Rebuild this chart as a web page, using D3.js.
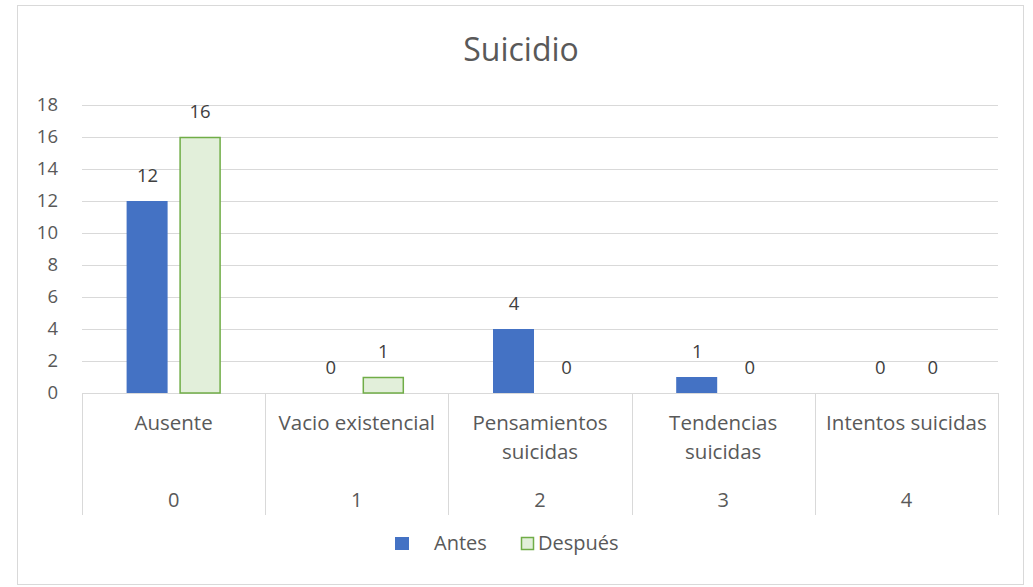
<!DOCTYPE html>
<html><head><meta charset="utf-8">
<script src="https://cdn.jsdelivr.net/npm/d3@7"></script>
<style>body{margin:0;background:#fff}</style>
</head><body>
<svg id="c" width="1033" height="587"></svg>
<script>
const categories = ["Ausente", "Vacio existencial", "Pensamientos suicidas", "Tendencias suicidas", "Intentos suicidas"];
const categoryLines = [["Ausente"], ["Vacio existencial"], ["Pensamientos", "suicidas"], ["Tendencias", "suicidas"], ["Intentos suicidas"]];
const indexLabels = ["0", "1", "2", "3", "4"];
const antes = [12, 0, 4, 1, 0];
const despues = [16, 1, 0, 0, 0];
const yTicks = [0, 2, 4, 6, 8, 10, 12, 14, 16, 18];
const seriesNames = ["Antes", "Después"];

const font = "'Open Sans', 'Liberation Sans', sans-serif";
const txt = "#595959";
const svg = d3.select("#c");
svg.append("rect").attr("x", 17.5).attr("y", 5.5).attr("width", 1006).attr("height", 579)
  .attr("fill", "#fff").attr("stroke", "#d9d9d9");

const L = 82, R = 998, T = 105, B = 393;
const x = d3.scaleBand().domain(categories).range([L, R]);
const y = d3.scaleLinear().domain([0, 18]).range([B, T]);

svg.append("text").attr("x", 521).attr("y", 61).attr("text-anchor", "middle")
  .attr("font-family", font).attr("font-size", 32).attr("fill", txt).text("Suicidio");

// gridlines
svg.append("g").selectAll("line").data(yTicks).join("line")
  .attr("x1", L).attr("x2", R).attr("y1", d => y(d) + 0.5).attr("y2", d => y(d) + 0.5)
  .attr("stroke", "#d9d9d9").attr("stroke-width", 1);

// y labels
svg.append("g").selectAll("text").data(yTicks).join("text")
  .attr("x", 58).attr("y", d => y(d)).attr("dy", "0.35em").attr("text-anchor", "end")
  .attr("font-family", font).attr("font-size", 18.5).attr("fill", txt).text(d => d);

// category separators
const seps = categories.map(c => x(c)).concat([R]);
svg.append("g").selectAll("line").data(seps).join("line")
  .attr("x1", d => Math.round(d) + 0.5).attr("x2", d => Math.round(d) + 0.5)
  .attr("y1", B).attr("y2", 515).attr("stroke", "#d9d9d9");

const bw = 41, gap = 6;
const cx = c => x(c) + x.bandwidth() / 2;

svg.append("g").selectAll("rect").data(categories).join("rect")
  .attr("x", c => cx(c) - gap - bw).attr("width", bw)
  .attr("y", (c, i) => y(antes[i])).attr("height", (c, i) => B - y(antes[i]))
  .attr("fill", "#4472C4");
svg.append("g").selectAll("rect").data(categories.filter((c, i) => despues[i] > 0)).join("rect")
  .attr("x", c => cx(c) + gap + 0.5).attr("width", bw - 1)
  .attr("y", c => y(despues[categories.indexOf(c)]) + 0.5)
  .attr("height", c => B - y(despues[categories.indexOf(c)]) - 0.5)
  .attr("fill", "#E2EFDA").attr("stroke", "#70AD47").attr("stroke-width", 1.5);

// data labels
const lab = (vals, off) => svg.append("g").selectAll("text").data(categories).join("text")
  .attr("x", c => cx(c) + off).attr("y", (c, i) => y(vals[i]) - 25).attr("dy", "0.35em")
  .attr("text-anchor", "middle").attr("font-family", font).attr("font-size", 18.5).attr("fill", "#404040")
  .text((c, i) => vals[i]);
lab(antes, -gap - bw / 2 + 0.5);
lab(despues, gap + bw / 2);

// category labels
categories.forEach((c, i) => {
  const t = svg.append("text").attr("x", cx(c)).attr("text-anchor", "middle")
    .attr("font-family", font).attr("font-size", 20.5).attr("fill", txt);
  categoryLines[i].forEach((ln, j) => t.append("tspan").attr("x", cx(c)).attr("y", 430 + j * 29).text(ln));
  svg.append("text").attr("x", cx(c)).attr("y", 507).attr("text-anchor", "middle")
    .attr("font-family", font).attr("font-size", 20).attr("fill", txt).text(indexLabels[i]);
});

// legend
const lg = svg.append("g");
lg.append("rect").attr("x", 395).attr("y", 537).attr("width", 14).attr("height", 13).attr("fill", "#4472C4");
lg.append("text").attr("x", 434).attr("y", 550).attr("font-family", font).attr("font-size", 20).attr("fill", txt).text(seriesNames[0]);
lg.append("rect").attr("x", 521.5).attr("y", 537.5).attr("width", 12).attr("height", 12)
  .attr("fill", "#E2EFDA").attr("stroke", "#70AD47").attr("stroke-width", 1.5);
lg.append("text").attr("x", 538).attr("y", 550).attr("font-family", font).attr("font-size", 20).attr("fill", txt).text(seriesNames[1]);
</script>
</body></html>
